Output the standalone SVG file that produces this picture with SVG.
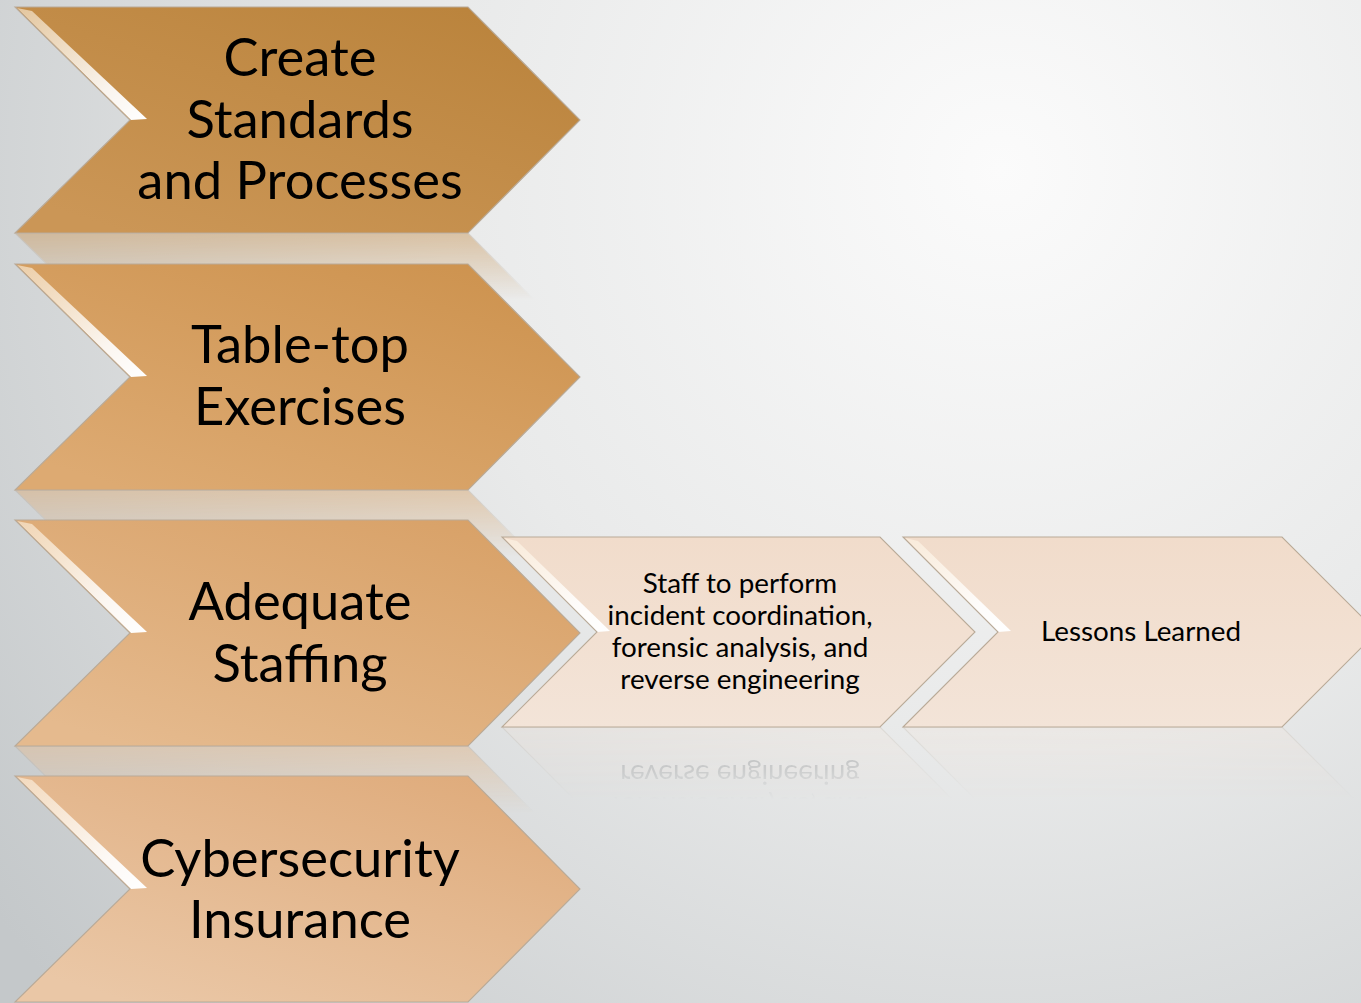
<svg xmlns="http://www.w3.org/2000/svg" xmlns:xlink="http://www.w3.org/1999/xlink" width="1361" height="1003" viewBox="0 0 1361 1003">
  <style>
    .big { font-family: Lato, "Open Sans", "Liberation Sans", sans-serif; font-size: 52.5px; fill: #000; text-anchor: middle; }
    .small { font-family: Lato, "Open Sans", "Liberation Sans", sans-serif; font-size: 27.8px; fill: #000; text-anchor: middle; }
    .edge { fill: none; stroke: #b9aa98; stroke-width: 1.1; }
    .topline { stroke: url(#topHi); stroke-width: 4; stroke-linecap: round; }
    .bevel { fill: url(#bevelHi); }
  </style>
  <defs>
    <radialGradient id="bg" cx="1000" cy="170" r="1250" gradientUnits="userSpaceOnUse">
      <stop offset="0" stop-color="#fbfbfb"/>
      <stop offset="0.45" stop-color="#e9eaea"/>
      <stop offset="1" stop-color="#c4c8ca"/>
    </radialGradient>
    <linearGradient id="g1" x1="1" y1="0" x2="0.2" y2="1">
      <stop offset="0" stop-color="#b9823a"/>
      <stop offset="1" stop-color="#cb9656"/>
    </linearGradient>
    <linearGradient id="g2" x1="1" y1="0" x2="0.2" y2="1">
      <stop offset="0" stop-color="#cc914c"/>
      <stop offset="1" stop-color="#ddaa72"/>
    </linearGradient>
    <linearGradient id="g3" x1="1" y1="0" x2="0.2" y2="1">
      <stop offset="0" stop-color="#d79f64"/>
      <stop offset="1" stop-color="#e5ba8e"/>
    </linearGradient>
    <linearGradient id="g4" x1="1" y1="0" x2="0.2" y2="1">
      <stop offset="0" stop-color="#dea978"/>
      <stop offset="1" stop-color="#eac7a6"/>
    </linearGradient>
    <linearGradient id="gs" x1="0" y1="0" x2="0" y2="1">
      <stop offset="0" stop-color="#f1dccb"/>
      <stop offset="1" stop-color="#f3e4d8"/>
    </linearGradient>
    <linearGradient id="topHi" x1="0" y1="0" x2="1" y2="0">
      <stop offset="0" stop-color="#fff4dc" stop-opacity="0.2"/>
      <stop offset="0.5" stop-color="#fff0cf" stop-opacity="0.55"/>
      <stop offset="1" stop-color="#fff4dc" stop-opacity="0.75"/>
    </linearGradient>
    <linearGradient id="bevelHi" x1="0" y1="0" x2="1" y2="1">
      <stop offset="0" stop-color="#fff6e6" stop-opacity="0.55"/>
      <stop offset="0.7" stop-color="#ffffff" stop-opacity="0.9"/>
      <stop offset="1" stop-color="#ffffff" stop-opacity="1"/>
    </linearGradient>

    <!-- fading masks for the mirrored reflections -->
    <linearGradient id="fade1" gradientUnits="userSpaceOnUse" x1="0" y1="233" x2="0" y2="300">
      <stop offset="0" stop-color="#fff" stop-opacity="0.45"/>
      <stop offset="1" stop-color="#fff" stop-opacity="0"/>
    </linearGradient>
    <linearGradient id="fade2" gradientUnits="userSpaceOnUse" x1="0" y1="490" x2="0" y2="557">
      <stop offset="0" stop-color="#fff" stop-opacity="0.45"/>
      <stop offset="1" stop-color="#fff" stop-opacity="0"/>
    </linearGradient>
    <linearGradient id="fade3" gradientUnits="userSpaceOnUse" x1="0" y1="746" x2="0" y2="813">
      <stop offset="0" stop-color="#fff" stop-opacity="0.45"/>
      <stop offset="1" stop-color="#fff" stop-opacity="0"/>
    </linearGradient>
    <linearGradient id="fadeS" gradientUnits="userSpaceOnUse" x1="0" y1="727" x2="0" y2="800">
      <stop offset="0" stop-color="#fff" stop-opacity="0.26"/>
      <stop offset="1" stop-color="#fff" stop-opacity="0"/>
    </linearGradient>
    <mask id="m1" maskUnits="userSpaceOnUse" x="0" y="0" width="1361" height="1003"><rect x="0" y="233" width="1361" height="80" fill="url(#fade1)"/></mask>
    <mask id="m2" maskUnits="userSpaceOnUse" x="0" y="0" width="1361" height="1003"><rect x="0" y="490" width="1361" height="80" fill="url(#fade2)"/></mask>
    <mask id="m3" maskUnits="userSpaceOnUse" x="0" y="0" width="1361" height="1003"><rect x="0" y="746" width="1361" height="80" fill="url(#fade3)"/></mask>
    <mask id="mS" maskUnits="userSpaceOnUse" x="0" y="0" width="1361" height="1003"><rect x="0" y="727" width="1361" height="80" fill="url(#fadeS)"/></mask>

    <path id="bigShape" d="M15,7 H468 L580,120 L468,233 H15 L130,120 Z"/>
    <!-- light bevel along the upper-left notch edge -->
    <path id="bigBevel" d="M17,8 L32,11 L147,119 L131,120 Z"/>
  </defs>

  <!-- backdrop -->
  <rect width="1361" height="1003" fill="url(#bg)"/>

  <!-- reflections below each chevron -->
  <g id="reflections">
    <g mask="url(#m1)"><use xlink:href="#node1" transform="translate(0,466) scale(1,-1)"/></g>
    <g mask="url(#m2)"><use xlink:href="#node2" transform="translate(0,980) scale(1,-1)"/></g>
    <g mask="url(#m3)"><use xlink:href="#node3" transform="translate(0,1492) scale(1,-1)"/></g>
    <g mask="url(#mS)">
      <use xlink:href="#node3a" transform="translate(0,1454) scale(1,-1)"/>
      <use xlink:href="#node3b" transform="translate(0,1454) scale(1,-1)"/>
    </g>
  </g>

  <g id="connectors"/>

  <!-- main column -->
  <g id="node1">
    <use xlink:href="#bigShape" fill="url(#g1)"/>
    <line class="topline" x1="30" y1="11" x2="464" y2="11"/>
    <use xlink:href="#bigBevel" class="bevel"/>
    <use xlink:href="#bigShape" class="edge"/>
    <text class="big" x="300" y="76">Create</text>
    <text class="big" x="300" y="138">Standards</text>
    <text class="big" x="300" y="199">and Processes</text>
  </g>

  <g id="node2" transform="translate(0,257)">
    <use xlink:href="#bigShape" fill="url(#g2)"/>
    <line class="topline" x1="30" y1="11" x2="464" y2="11"/>
    <use xlink:href="#bigBevel" class="bevel"/>
    <use xlink:href="#bigShape" class="edge"/>
    <text class="big" x="300" y="106">Table-top</text>
    <text class="big" x="300" y="168">Exercises</text>
  </g>

  <g id="node3" transform="translate(0,513)">
    <use xlink:href="#bigShape" fill="url(#g3)"/>
    <line class="topline" x1="30" y1="11" x2="464" y2="11"/>
    <use xlink:href="#bigBevel" class="bevel"/>
    <use xlink:href="#bigShape" class="edge"/>
    <text class="big" x="300" y="107">Adequate</text>
    <text class="big" x="300" y="169">Staffing</text>
  </g>

  <g id="node4" transform="translate(0,769)">
    <use xlink:href="#bigShape" fill="url(#g4)"/>
    <line class="topline" x1="30" y1="11" x2="464" y2="11"/>
    <use xlink:href="#bigBevel" class="bevel"/>
    <use xlink:href="#bigShape" class="edge"/>
    <text class="big" x="300" y="108">Cybersecurity</text>
    <text class="big" x="300" y="169">Insurance</text>
  </g>

  <!-- sub-steps of Adequate Staffing -->
  <g id="node3a">
    <path d="M502,537 H880 L975,632 L880,727 H502 L597,632 Z" fill="url(#gs)"/>
    <line class="topline" x1="515" y1="541" x2="876" y2="541"/>
    <path class="bevel" d="M504,538 L517,541 L610,631 L597,632 Z"/>
    <path class="edge" d="M502,537 H880 L975,632 L880,727 H502 L597,632 Z"/>
    <text class="small" x="740" y="593">Staff to perform</text>
    <text class="small" x="740" y="625">incident coordination,</text>
    <text class="small" x="740" y="657">forensic analysis, and</text>
    <text class="small" x="740" y="689">reverse engineering</text>
  </g>

  <g id="node3b">
    <path d="M903,537 H1282 L1377,632 L1282,727 H903 L998,632 Z" fill="url(#gs)"/>
    <line class="topline" x1="916" y1="541" x2="1278" y2="541"/>
    <path class="bevel" d="M905,538 L918,541 L1011,631 L998,632 Z"/>
    <path class="edge" d="M903,537 H1282 L1377,632 L1282,727 H903 L998,632 Z"/>
    <text class="small" x="1141" y="641">Lessons Learned</text>
  </g>
</svg>
